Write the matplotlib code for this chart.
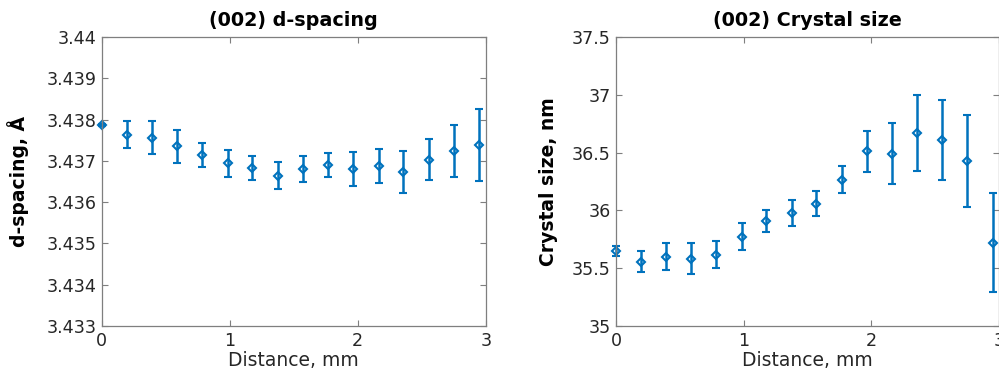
import matplotlib
matplotlib.use('Agg')
import matplotlib.pyplot as plt

# distance along the sample, mm
distance = [0.0, 0.198, 0.39, 0.59, 0.786, 0.984, 1.177, 1.377, 1.57, 1.77,
            1.966, 2.164, 2.356, 2.557, 2.752, 2.95]

# (002) d-spacing, Angstrom
d_spacing = [3.43787, 3.43763, 3.43756, 3.43735, 3.43715, 3.43694, 3.43683, 3.43664,
             3.43681, 3.43690, 3.43680, 3.43688, 3.43673, 3.43703, 3.43725, 3.43739]
d_err = [0.00003, 0.00033, 0.00040, 0.00040, 0.00029, 0.00033, 0.00029, 0.00033,
         0.00032, 0.00030, 0.00041, 0.00041, 0.00050, 0.00049, 0.00063, 0.00087]

# (002) crystal size, nm
size = [35.650, 35.555, 35.599, 35.584, 35.616, 35.774, 35.907, 35.979,
        36.057, 36.267, 36.510, 36.492, 36.671, 36.607, 36.426, 35.722]
size_err = [0.04, 0.09, 0.115, 0.134, 0.117, 0.117, 0.097, 0.115,
            0.108, 0.115, 0.18, 0.265, 0.33, 0.345, 0.40, 0.43]

d_ticks = [3.433, 3.434, 3.435, 3.436, 3.437, 3.438, 3.439, 3.44]
d_labels = ['3.433', '3.434', '3.435', '3.436', '3.437', '3.438', '3.439', '3.44']
s_ticks = [35, 35.5, 36, 36.5, 37, 37.5]
s_labels = ['35', '35.5', '36', '36.5', '37', '37.5']

blue = '#0072BD'
txt = '#262626'
spine = '#7f7f7f'

plt.rcParams['font.family'] = ['DejaVu Sans']
fig = plt.figure(figsize=(9.99, 3.79), dpi=100)

ax1 = fig.add_axes([0.1018, 0.1398, 0.3844, 0.7625])
ax2 = fig.add_axes([0.6166, 0.1398, 0.3834, 0.7625])


def style(ax, yt, yl, ylim):
    ax.set_xlim(0, 3)
    ax.set_ylim(*ylim)
    ax.set_xticks([0, 1, 2, 3])
    ax.set_xticklabels(['0', '1', '2', '3'])
    ax.set_yticks(yt)
    ax.set_yticklabels(yl)
    ax.tick_params(direction='in', length=4, width=0.8, color=spine,
                   labelcolor=txt, labelsize=12.6, top=True, right=True, pad=4)
    for s in ax.spines.values():
        s.set_color(spine)
        s.set_linewidth(0.9)
    ax.set_xlabel('Distance, mm', fontsize=13.5, color=txt, labelpad=1)


def draw(ax, y, e):
    ax.errorbar(distance, y, yerr=e, fmt='D', color=blue, mfc='none',
                mec=blue, ms=4.4, mew=1.5, elinewidth=1.8, capsize=3,
                capthick=1.8, clip_on=False)


draw(ax1, d_spacing, d_err)
style(ax1, d_ticks, d_labels, (3.433, 3.44))
ax1.set_ylabel('d-spacing, Å', fontsize=13.5, fontweight='bold', color='black', labelpad=12)
ax1.set_title('(002) d-spacing', fontsize=13.8, fontweight='bold', color='black', pad=8)

draw(ax2, size, size_err)
style(ax2, s_ticks, s_labels, (35, 37.5))
ax2.set_ylabel('Crystal size, nm', fontsize=13.5, fontweight='bold', color='black', labelpad=10)
ax2.set_title('(002) Crystal size', fontsize=13.8, fontweight='bold', color='black', pad=8)

fig.savefig('out.png', dpi=100)
